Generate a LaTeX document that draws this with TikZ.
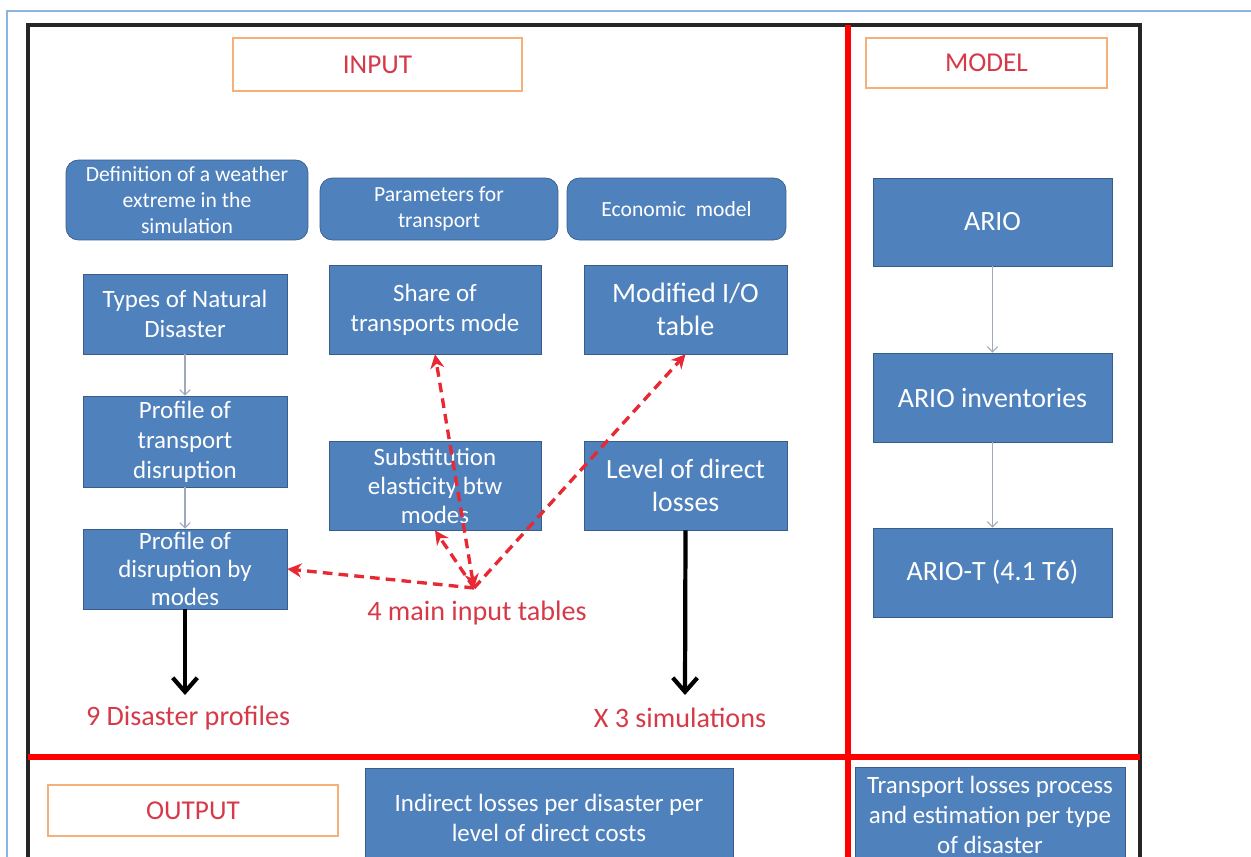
\documentclass[tikz,border=0pt]{standalone}
\usepackage{fontspec}
\setmainfont{Carlito}
\usetikzlibrary{arrows.meta}

\definecolor{boxblue}{RGB}{79,129,189}
\definecolor{boxedge}{RGB}{56,93,138}
\definecolor{tagline}{RGB}{244,176,120}
\definecolor{labred}{RGB}{214,58,72}
\definecolor{pagebar}{RGB}{141,179,226}
\definecolor{flowgray}{RGB}{160,168,190}
\definecolor{linkred}{RGB}{232,40,50}

\tikzset{
  blk/.style={draw=boxedge, fill=boxblue, text=white, align=center, inner sep=1pt,
    font=\fontsize{14.2}{17}\selectfont},
  rblk/.style={blk, rounded corners=7pt, font=\fontsize{12.3}{14.8}\selectfont},
  tag/.style={draw=tagline, line width=1.1pt, text=labred, font=\fontsize{15.5}{18}\selectfont},
  note/.style={text=labred, font=\fontsize{16}{19}\selectfont},
  flow/.style={draw=flowgray, line width=0.6pt, -{Straight Barb[length=3pt,width=6pt]}},
  drop/.style={line width=2.4pt, -{Straight Barb[length=8pt,width=14pt]}},
  link/.style={draw=linkred, line width=1.9pt, dash pattern=on 5.5pt off 3.5pt,
    -{Stealth[length=8pt,width=8pt]}},
  divider/.style={draw=red, line width=3.2pt},
}

\begin{document}
\begin{tikzpicture}[x=0.02cm, y=-0.02cm]
\useasboundingbox[fill=white] (0,0) rectangle (1251,856);

% Page frame and panel dividers
\draw[pagebar, line width=1.7pt] (7,870) -- (7,11) -- (1260,11);
\draw[black!85, line width=1.9pt] (28,25) rectangle (1140,900);
\draw[divider] (848,25) -- (848,870);
\draw[divider] (28,757) -- (1140,757);

% Panel titles
\node[tag, minimum width=5.78cm, minimum height=1.06cm] (input) at (377.5,64.5) {INPUT};
\node[tag, minimum width=4.82cm, minimum height=1.0cm] (model) at (986.5,63) {MODEL};
\node[tag, minimum width=5.8cm, minimum height=1.02cm] (output) at (193,810.5) {OUTPUT};

% Input headers
\node[rblk, minimum width=4.84cm, minimum height=1.6cm] (defn) at (187,200)
  {Definition of a weather\\ extreme in the\\ simulation};
\node[rblk, minimum width=4.76cm, minimum height=1.24cm] (param) at (439,209)
  {Parameters for\\ transport};
\node[rblk, minimum width=4.38cm, minimum height=1.24cm] (econ) at (676.5,209)
  {Economic\ \ model};

% Input tables
\node[blk, minimum width=4.08cm, minimum height=1.6cm] (types) at (185,314)
  {Types of Natural\\ Disaster};
\node[blk, minimum width=4.08cm, minimum height=1.82cm] (prof) at (185,441.5)
  {Profile of\\ transport\\ disruption};
\node[blk, minimum width=4.08cm, minimum height=1.6cm, font=\fontsize{14.2}{15.8}\selectfont]
  (modes) at (185,569) {Profile of\\ disruption by\\ modes};
\node[blk, minimum width=4.24cm, minimum height=1.78cm, font=\fontsize{14.2}{17}\selectfont]
  (share) at (435,309.5) {Share of\\ transports mode};
\node[blk, minimum width=4.06cm, minimum height=1.78cm, font=\fontsize{16}{19}\selectfont]
  (iotab) at (685.5,309.5) {Modified I/O\\ table};
\node[blk, minimum width=4.24cm, minimum height=1.78cm, font=\fontsize{14.2}{16.5}\selectfont]
  (subst) at (435,485.5) {Substitution\\ elasticity btw\\ modes};
\node[blk, minimum width=4.06cm, minimum height=1.78cm, font=\fontsize{15.8}{19}\selectfont]
  (level) at (685.5,485.5) {Level of direct\\ losses};

% Model chain
\node[blk, minimum width=4.78cm, minimum height=1.76cm, font=\fontsize{15.9}{18}\selectfont]
  (ario) at (992.5,222) {ARIO};
\node[blk, minimum width=4.78cm, minimum height=1.78cm, font=\fontsize{15.9}{18}\selectfont]
  (arioinv) at (992.5,397.5) {ARIO inventories};
\node[blk, minimum width=4.78cm, minimum height=1.78cm, font=\fontsize{15.9}{18}\selectfont]
  (ariot) at (992.5,572.5) {ARIO-T (4.1 T6)};

% Outputs
\node[blk, minimum width=7.36cm, minimum height=2.0cm] (indirect) at (549,818)
  {Indirect losses per disaster per\\ level of direct costs};
\node[blk, minimum width=5.4cm, minimum height=1.92cm] (transp) at (990,815)
  {Transport losses process\\ and estimation per type\\ of disaster};

% Red notes
\node[note] (dis9) at (188,718) {9 Disaster profiles};
\node[note] (sims) at (680,718) {X 3 simulations};
\node[note] (tables) at (477,613) {4 main input tables};

\coordinate (hub) at (474,588);
\coordinate (end1) at (185,695);
\coordinate (end2) at (685,695);

% Thin flow arrows
\draw[flow] (types) -- (prof);
\draw[flow] (prof) -- (modes);
\draw[flow] (ario) -- (arioinv);
\draw[flow] (arioinv) -- (ariot);

% Thick drops
\draw[drop] (modes.south) -- (end1);
\draw[drop] (level.south) -- (end2);

% Dashed links from the input tables
\draw[link] (hub) -- (modes.east);
\draw[link] (hub) -- (subst.south);
\draw[link, {Stealth[length=8pt,width=8pt]}-{Stealth[length=8pt,width=8pt]}] (hub) -- (share.south);
\draw[link] (hub) -- (iotab.south);
\end{tikzpicture}
\end{document}
